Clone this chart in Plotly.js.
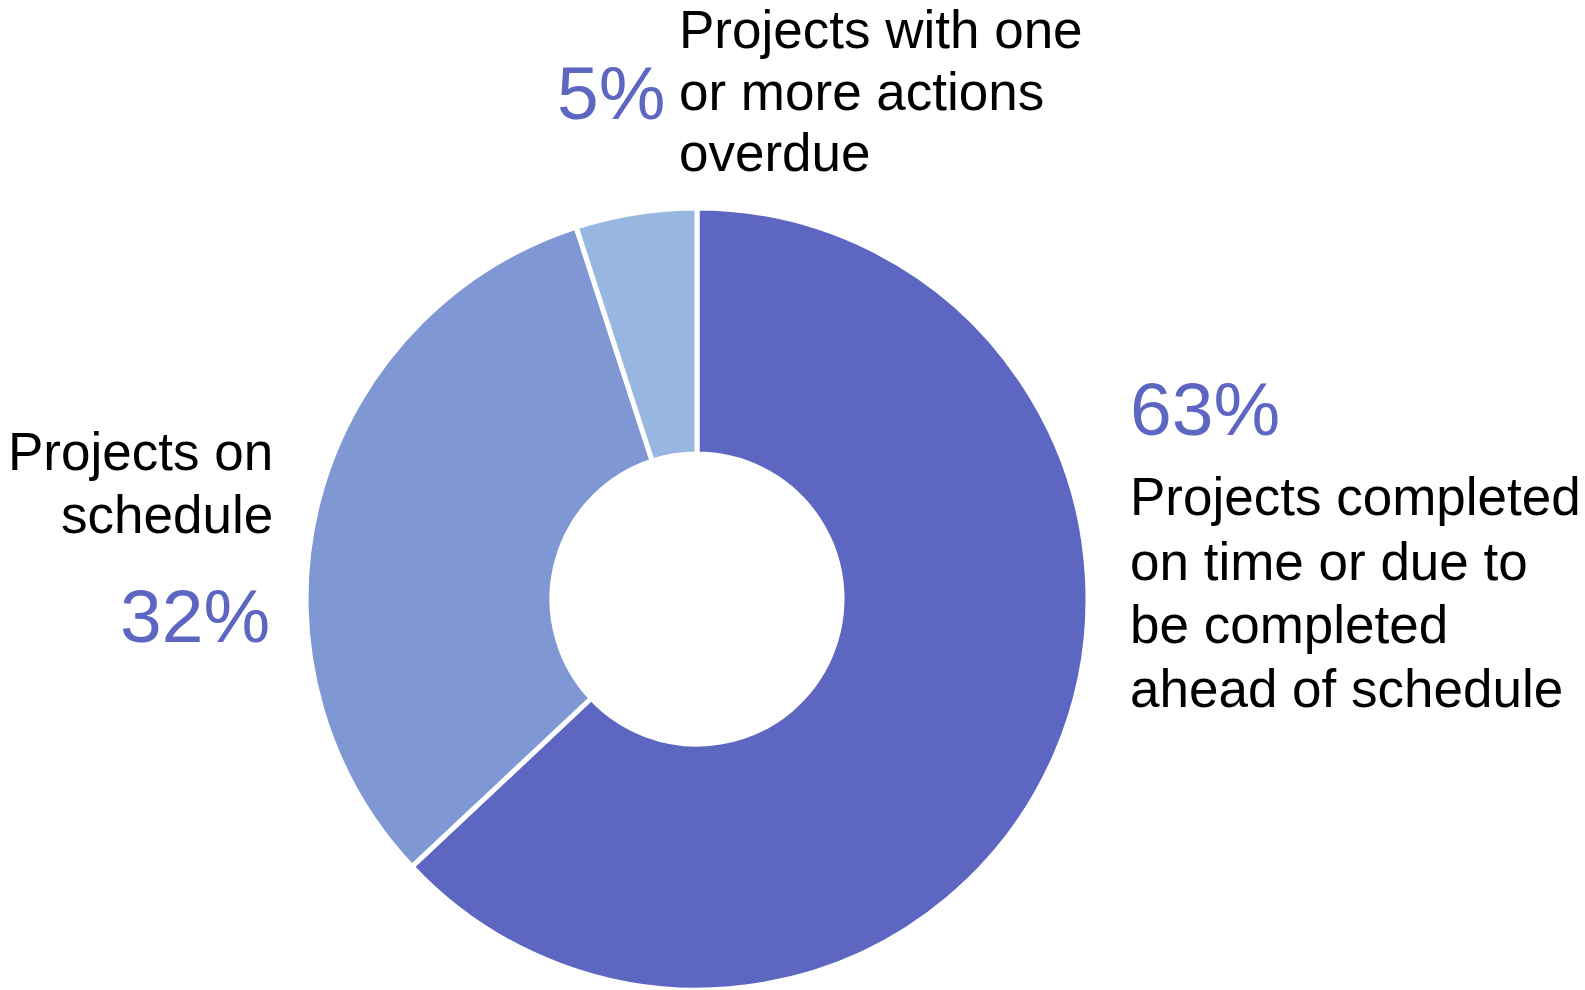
<!DOCTYPE html>
<html>
<head>
<meta charset="utf-8">
<script src="https://cdn.plot.ly/plotly-3.0.1.min.js"></script>
<style>
  html, body { margin: 0; padding: 0; background: #ffffff; }
  #chart { width: 1585px; height: 990px; }
</style>
</head>
<body>
<div id="chart"></div>
<script>
// ---- Data ----
const categories = [
  "Projects completed on time or due to be completed ahead of schedule",
  "Projects on schedule",
  "Projects with one or more actions overdue"
];
const values = [63, 32, 5];
const labelLines = [
  ["Projects completed", "on time or due to", "be completed", "ahead of schedule"],
  ["Projects on", "schedule"],
  ["Projects with one", "or more actions", "overdue"]
];

// ---- Styles ----
const sliceColors = ["#5D66C1", "#7F97D3", "#98B7E0"];
const pctColor = "#5D66C1";
const FONT = "Liberation Sans, Arial, Helvetica, sans-serif";
const W = 1585, H = 990;
const labelSize = 53, pctSize = 75;

// ---- Label placement (pixel anchors: x origin, baselines) ----
const labelPlacement = [
  { x: 1129, anchor: "left",  baselines: [515, 580, 643, 707] },
  { x: 274,  anchor: "right", baselines: [470, 533] },
  { x: 678,  anchor: "left",  baselines: [48, 110, 171] }
];
const pctPlacement = [
  { x: 1129, anchor: "left",  baseline: 435 },
  { x: 271,  anchor: "right", baseline: 642 },
  { x: 556,  anchor: "left",  baseline: 119 }
];

function px2x(px) { return px / W; }
function baseline2y(b, size) { return 1 - (b - 0.3465 * size) / H; }

const annotations = [];
labelLines.forEach((lines, i) => {
  const p = labelPlacement[i];
  lines.forEach((t, j) => {
    annotations.push({
      text: t, xref: "paper", yref: "paper",
      x: px2x(p.x), y: baseline2y(p.baselines[j], labelSize),
      xanchor: p.anchor, yanchor: "middle", showarrow: false,
      borderpad: 0, align: p.anchor,
      font: { family: FONT, size: labelSize, color: "#000000" }
    });
  });
});
values.forEach((v, i) => {
  const p = pctPlacement[i];
  annotations.push({
    text: v + "%", xref: "paper", yref: "paper",
    x: px2x(p.x), y: baseline2y(p.baseline, pctSize),
    xanchor: p.anchor, yanchor: "middle", showarrow: false,
    borderpad: 0,
    font: { family: FONT, size: pctSize, color: pctColor }
  });
});

// Pie geometry: center (697, 599), radius 391
const cx = 697, cy = 599, R = 391;
const trace = {
  type: "pie",
  labels: categories,
  values: values,
  sort: false,
  direction: "clockwise",
  rotation: 0,
  hole: 0.371,
  textinfo: "none",
  hoverinfo: "skip",
  marker: { colors: sliceColors, line: { color: "#ffffff", width: 5 } },
  domain: {
    x: [(cx - R) / W, (cx + R) / W],
    y: [Math.max(0, 1 - (cy + R) / H), 1 - (cy - R) / H]
  }
};

const layout = {
  width: W, height: H,
  margin: { l: 0, r: 0, t: 0, b: 0, pad: 0 },
  paper_bgcolor: "#ffffff",
  plot_bgcolor: "#ffffff",
  showlegend: false,
  annotations: annotations,
  font: { family: FONT }
};

Plotly.newPlot("chart", [trace], layout, { displayModeBar: false, staticPlot: true });
</script>
</body>
</html>
